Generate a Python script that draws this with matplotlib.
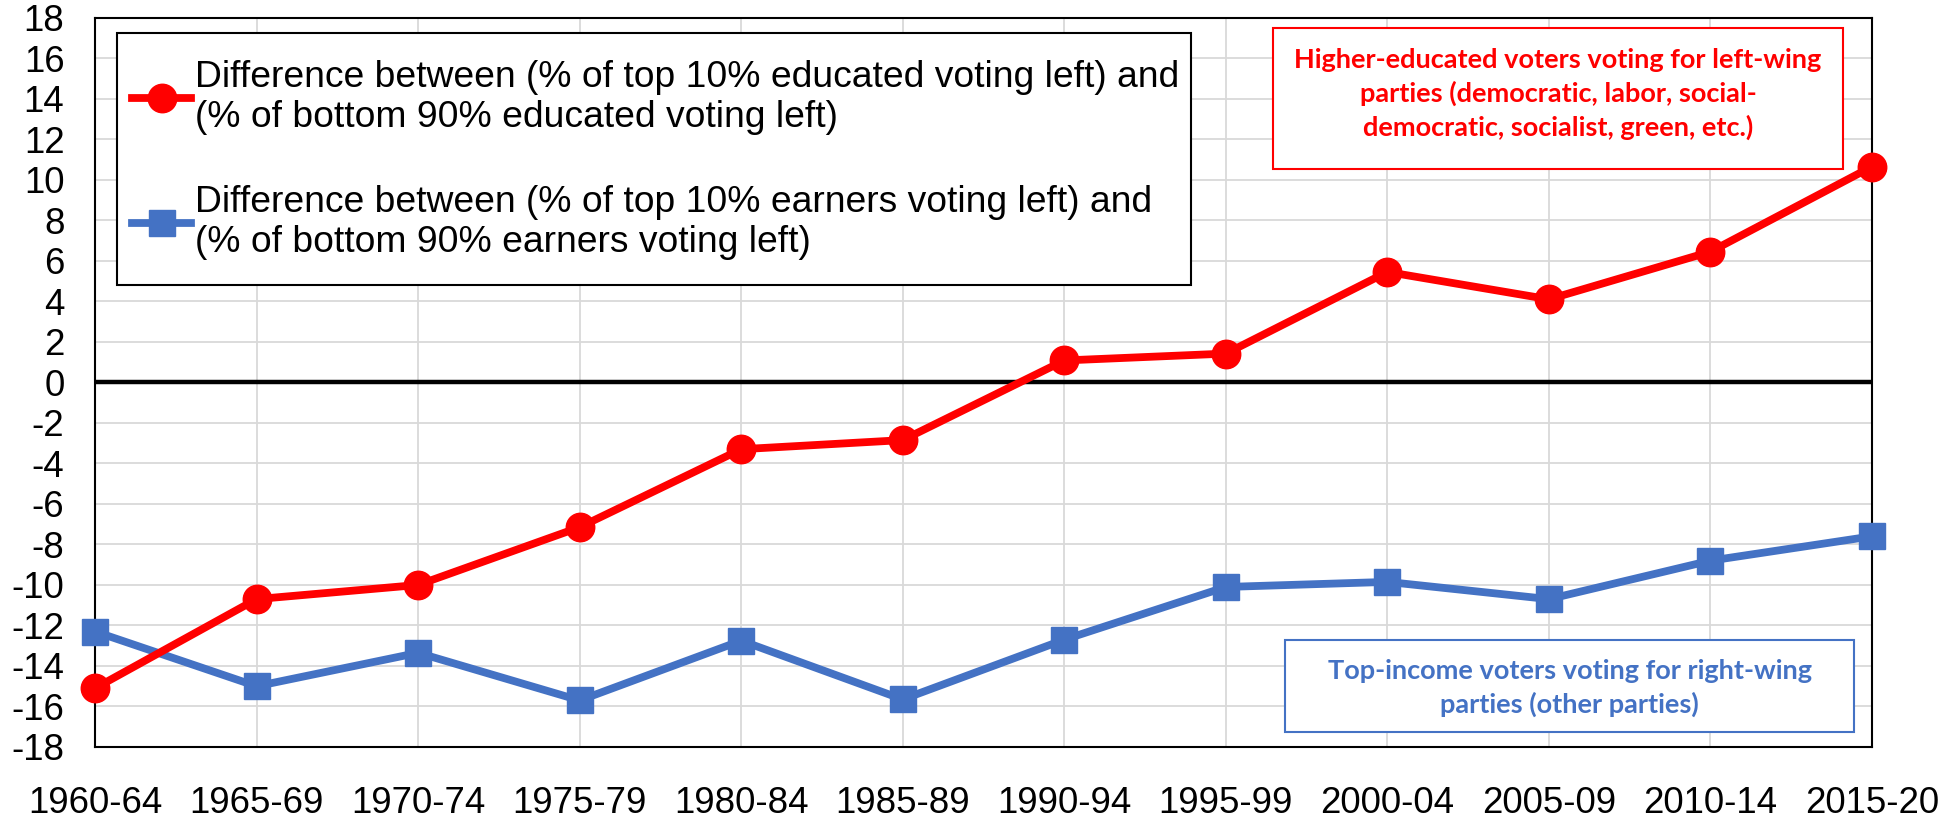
import matplotlib
matplotlib.use("Agg")
import matplotlib.pyplot as plt
from matplotlib.patches import Rectangle
from matplotlib.lines import Line2D
from matplotlib.transforms import ScaledTranslation
from matplotlib import font_manager

# ---------------- data ----------------
periods = ["1960-64", "1965-69", "1970-74", "1975-79", "1980-84", "1985-89",
           "1990-94", "1995-99", "2000-04", "2005-09", "2010-14", "2015-20"]
educ_gap = [-15.1, -10.7, -10.0, -7.15, -3.3, -2.85, 1.08, 1.42, 5.45, 4.1, 6.45, 10.65]
income_gap = [-12.3, -15.0, -13.35, -15.7, -12.75, -15.65, -12.7, -10.1, -9.85, -10.7, -8.8, -7.6]
y_ticks = list(range(-18, 19, 2))
legend_labels = [
    "Difference between (% of top 10% educated voting left) and\n(% of bottom 90% educated voting left)",
    "Difference between (% of top 10% earners voting left) and\n(% of bottom 90% earners voting left)",
]
note_left = ("Higher-educated voters voting for left-wing\n"
             "parties (democratic, labor, social-\n"
             "democratic, socialist, green, etc.)")
note_right = "Top-income voters voting for right-wing\nparties (other parties)"

RED = "#FF0000"
BLUE = "#4472C4"
W, H = 1942, 819
DPI = 100

names = {f.name for f in font_manager.fontManager.ttflist}
MAIN_FONT = "Liberation Sans" if "Liberation Sans" in names else "DejaVu Sans"
NOTE_FONT = "Lato" if "Lato" in names else MAIN_FONT

plt.rcParams["font.family"] = [MAIN_FONT, "DejaVu Sans"]

fig = plt.figure(figsize=(W / DPI, H / DPI), dpi=DPI)
fig.patch.set_facecolor("white")


def fx(px):
    return px / W


def fy(py):
    return 1 - py / H


ax_l, ax_r, ax_t, ax_b = 95, 1872, 17.7, 747
ax = fig.add_axes([fx(ax_l), fy(ax_b), fx(ax_r - ax_l), (ax_b - ax_t) / H])

x = list(range(len(periods)))
ax.set_xlim(0, len(periods) - 1)
ax.set_ylim(-18, 18)
ax.set_yticks(y_ticks)
ax.set_yticklabels([str(v) for v in y_ticks])
ax.set_xticks(x)
ax.set_xticklabels(periods)
ax.tick_params(axis="both", length=0, labelsize=26.4, colors="black")
ax.tick_params(axis="x", pad=28)
ax.tick_params(axis="y", pad=22)

ax.grid(True, color="#D9D9D9", linewidth=1.3)
ax.set_axisbelow(True)
for s in ax.spines.values():
    s.set_color("black")
    s.set_linewidth(1.5)

ax.axhline(0, color="black", linewidth=3.2, zorder=2)

LW = 5.6
ax.plot(x, educ_gap, color=RED, linewidth=LW, marker="o", markersize=20.5,
        clip_on=False, zorder=4)
ax.plot(x, income_gap, color=BLUE, linewidth=LW, marker="s", markersize=18.5,
        clip_on=False, zorder=3)

# legend frame drawn at exact position, legend itself frameless
fig.add_artist(Rectangle((fx(117), fy(285)), fx(1191 - 117), (285 - 33) / H,
                         transform=fig.transFigure, facecolor="white",
                         edgecolor="black", linewidth=1.5, zorder=5))

handles = [
    Line2D([], [], color=RED, linewidth=LW, marker="o", markersize=20.5),
    Line2D([], [], color=BLUE, linewidth=LW, marker="s", markersize=18.5),
]
LEG_FS = 26.8
fs_px = LEG_FS * DPI / 72.0


def make_legend(anchor, ls):
    lg = fig.legend(handles, legend_labels, loc="upper left",
                    bbox_to_anchor=anchor, fontsize=LEG_FS, frameon=False,
                    borderpad=0, labelspacing=ls, handlelength=1.6,
                    handletextpad=0.1, borderaxespad=0)
    lg.set_zorder(6)
    return lg


ls = 1.3
anchor = (fx(134), fy(50))
leg = make_legend(anchor, ls)
fig.canvas.draw()
r = fig.canvas.get_renderer()
tx = leg.get_texts()
c0 = (tx[0].get_window_extent(r).y0 + tx[0].get_window_extent(r).y1) / 2
c1 = (tx[1].get_window_extent(r).y0 + tx[1].get_window_extent(r).y1) / 2
gap = c0 - c1
ls = ls + (125.0 - gap) / fs_px
leg.remove()
leg = make_legend(anchor, ls)
fig.canvas.draw()
e0 = leg.get_texts()[0].get_window_extent(r)
cur_center = H - (e0.y0 + e0.y1) / 2   # in pixels from top
cur_left = e0.x0
dy = 97.5 - cur_center
dx = 195 - cur_left
anchor = (fx(134 + dx), fy(50 + dy))
leg.remove()
leg = make_legend(anchor, ls)

# keep the outer x tick labels inside the figure (as in the source chart)
fig.canvas.draw()
for lab in ax.get_xticklabels():
    ext = lab.get_window_extent(r)
    shift = 0.0
    if ext.x0 < 0:
        shift = -ext.x0
    elif ext.x1 > W:
        shift = W - ext.x1
    if shift:
        lab.set_transform(lab.get_transform() +
                          ScaledTranslation(shift / DPI, 0, fig.dpi_scale_trans))


# annotation boxes
def note_box(x0, y0, x1, y1, text, color, target_w, yc, lsp):
    rect = Rectangle((fx(x0), fy(y1)), fx(x1 - x0), (y1 - y0) / H,
                     transform=fig.transFigure, facecolor="white",
                     edgecolor=color, linewidth=1.5, zorder=5)
    fig.add_artist(rect)
    t = fig.text(fx((x0 + x1) / 2), fy(yc), text, color=color,
                 ha="center", va="center", fontsize=20, fontweight="bold",
                 family=[NOTE_FONT, "DejaVu Sans"], linespacing=lsp,
                 multialignment="center", zorder=6)
    fig.canvas.draw()
    rr = fig.canvas.get_renderer()
    w = t.get_window_extent(rr).width
    t.set_fontsize(20 * target_w / w)
    return t


note_box(1273, 28, 1843, 169, note_left, RED, 528, 94, 1.42)
note_box(1285, 640, 1854, 732, note_right, BLUE, 486, 688, 1.42)

fig.savefig("out.png", dpi=DPI, facecolor="white")
